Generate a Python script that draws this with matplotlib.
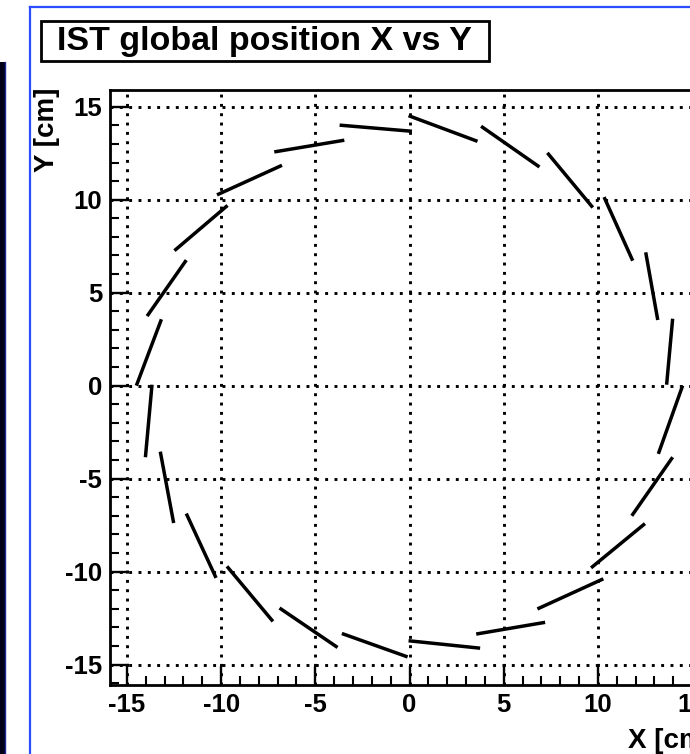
import matplotlib
matplotlib.use("Agg")
import matplotlib.pyplot as plt
from matplotlib.patches import Rectangle
from matplotlib.lines import Line2D
from matplotlib.ticker import MultipleLocator

# ---- data: 24 IST ladder hit strips (start/end points, cm) ----
x_start = [-14.50, -13.93, -12.48, -10.22, -7.18, -3.71, -0.05, 3.80, 7.32, 10.33, 12.54, 13.97,
           14.50, 13.97, 12.50, 10.29, 7.20, 3.75, -0.10, -3.82, -7.25, -10.27, -12.52, -14.02]
y_start = [0.00, 3.74, 7.26, 10.26, 12.57, 14.01, 14.52, 13.95, 12.52, 10.14, 7.17, 3.60,
           0.00, -3.85, -7.42, -10.39, -12.73, -14.12, -14.59, -14.08, -12.68, -10.34, -7.39, -3.85]
x_end = [-13.17, -11.85, -9.66, -6.77, -3.46, 0.13, 3.61, 6.90, 9.73, 11.85, 13.18, 13.65,
         13.21, 11.80, 9.64, 6.79, 3.54, -0.05, -3.59, -6.90, -9.69, -11.85, -13.23, -13.67]
y_end = [3.57, 6.75, 9.69, 11.85, 13.20, 13.68, 13.14, 11.76, 9.58, 6.72, 3.53, 0.05,
         -3.67, -7.00, -9.80, -12.01, -13.36, -13.72, -13.33, -11.96, -9.72, -6.88, -3.55, 0.05]

x_ticks = [-15, -10, -5, 0, 5, 10, 15]
y_ticks = [-15, -10, -5, 0, 5, 10, 15]
title = "IST global position X vs Y"
x_label = "X [cm]"
y_label = "Y [cm]"

W, H = 690, 754
DPI = 100
FONT = "Liberation Sans"

fig = plt.figure(figsize=(W / DPI, H / DPI), dpi=DPI, facecolor="white")


def fx(px):
    return px / W


def fy(py):
    return 1 - py / H


# axes placement (right part cropped off the figure like the reference)
left_px, right_px, top_px, bottom_px = 110, 709, 90, 685
ax = fig.add_axes([fx(left_px), fy(bottom_px), fx(right_px) - fx(left_px), fy(top_px) - fy(bottom_px)])
ax.set_xlim(-15.9, 15.9)
ax.set_ylim(-16.1, 15.9)

for xs, ys, xe, ye in zip(x_start, y_start, x_end, y_end):
    ax.plot([xs, xe], [ys, ye], color="black", lw=2.5, solid_capstyle="butt", zorder=3)

ax.set_xticks(x_ticks)
ax.set_yticks(y_ticks)
ax.xaxis.set_minor_locator(MultipleLocator(1))
ax.yaxis.set_minor_locator(MultipleLocator(1))
ax.tick_params(which="major", direction="in", length=13.5, width=1.7, pad=5.5,
               top=False, right=False)
ax.tick_params(which="minor", direction="in", length=6.8, width=1.5, top=False, right=False)
ax.set_xticklabels([str(v) for v in x_ticks], fontfamily=FONT, fontweight="bold", fontsize=18.5)
ax.set_yticklabels([str(v) for v in y_ticks], fontfamily=FONT, fontweight="bold", fontsize=18.5)

ax.grid(True, which="major", color="black", lw=2.1, linestyle=(0, (1.0, 2.2)),
        dash_capstyle="butt")
ax.set_axisbelow(True)
for sp in ax.spines.values():
    sp.set_linewidth(2.0)

# y label (ROOT style, aligned to top of frame)
fig.text(fx(47), fy(88), y_label, rotation=90, ha="center", va="top",
         fontfamily=FONT, fontweight="bold", fontsize=20)
# x label (bottom right, partly cropped)
fig.text(fx(628), fy(748), x_label, ha="left", va="baseline",
         fontfamily=FONT, fontweight="bold", fontsize=20)

# title box
fig.add_artist(Rectangle((fx(41), fy(61)), fx(489) - fx(41), fy(21) - fy(61),
                         transform=fig.transFigure, facecolor="white", edgecolor="black", lw=2.0))
fig.text(fx(57), fy(50), title, ha="left", va="baseline",
         fontfamily=FONT, fontweight="bold", fontsize=24.5)

# canvas decorations: blue frame border and dark side bar
blue = "#2b4cff"
fig.add_artist(Line2D([fx(30), fx(30)], [fy(7), 0], transform=fig.transFigure, color=blue, lw=1.6))
fig.add_artist(Line2D([fx(30), 1], [fy(7), fy(7)], transform=fig.transFigure, color=blue, lw=1.6))
fig.add_artist(Rectangle((0, 0), fx(5), fy(62), transform=fig.transFigure,
                         facecolor="#000018", edgecolor="none"))
fig.add_artist(Line2D([fx(5), fx(5)], [0, fy(62)], transform=fig.transFigure, color="#1a2a9a", lw=1.0))

fig.savefig("out.png", dpi=DPI, facecolor="white")
